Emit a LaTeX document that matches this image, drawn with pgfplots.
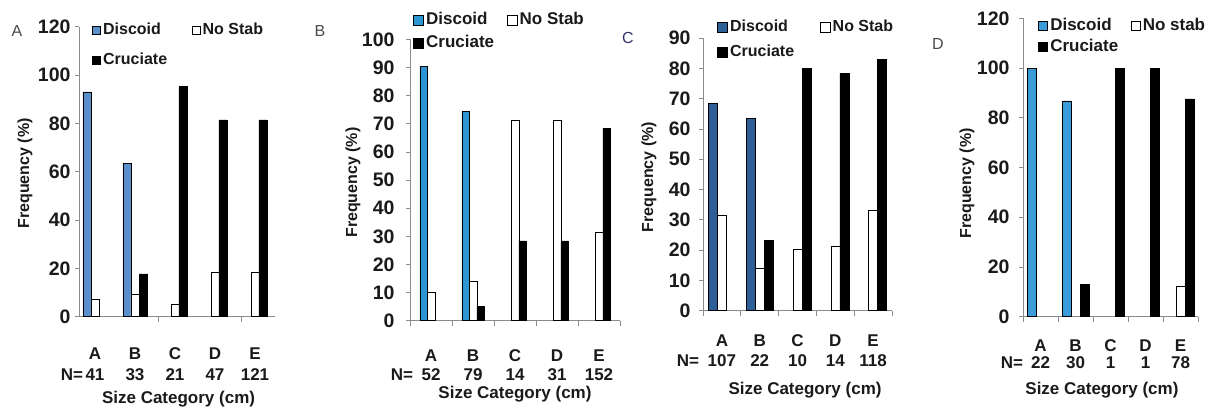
\documentclass[border=0pt]{standalone}
\usepackage{pgfplots}
\pgfplotsset{compat=1.18}
\usepackage{fontspec}
\setmainfont{Liberation Sans}
\definecolor{blueA}{HTML}{5B8FCB}
\definecolor{blueB}{HTML}{2E95D3}
\definecolor{blueC}{HTML}{2E5E96}
\definecolor{blueD}{HTML}{3A9BD8}
\definecolor{axgray}{HTML}{8C8C8C}
\definecolor{txt}{HTML}{1A1A1A}
\definecolor{lettergray}{HTML}{4A4A4A}
\newcommand{\fs}[1]{\fontsize{#1}{#1}\selectfont\bfseries}
\newcommand{\fr}[1]{\fontsize{#1}{#1}\selectfont}
\pgfplotsset{
  panel/.style={
    scale only axis, anchor=south west,
    ybar=0pt, ymin=0, enlarge x limits=false,
    axis x line=bottom, axis y line=left,
    axis line style={-, draw=axgray, line width=0.8pt},
    tick align=outside,
    major tick length=4pt, minor tick length=5pt,
    ytick style={draw=axgray, line width=0.8pt},
    major x tick style={draw=none},
    minor x tick style={draw=axgray, line width=0.8pt},
    xtick={0,1,2,3,4},
    xticklabels={A,B,C,D,E},
    /pgf/number format/assume math mode=true,
    yticklabel style={font=\fs{19.5}, text=txt},
    xticklabel style={font=\fs{17}, text=txt, anchor=base},
    xlabel={Size Category (cm)},
    ylabel={Frequency (\%)},
    xlabel style={font=\fs{17}, text=txt, anchor=base},
    ylabel style={font=\fs{16}, text=txt, anchor=center},
    legend columns=2,
    legend cell align=left,
    legend style={draw=none, fill=none, inner sep=0pt, anchor=north west, font=\fs{16},
      nodes={inner sep=1pt, inner xsep=2.5pt, text height=12pt, text depth=3pt, text=txt}},
    extra x ticks={0,1,2,3,4},
  },
  disc/.style={fill=#1, draw=black, line width=0.5pt},
  nost/.style={fill=white, draw=black, line width=0.5pt},
  cruc/.style={fill=black, draw=black, line width=0.5pt},
}
\begin{document}
\begin{tikzpicture}
\useasboundingbox (0pt,0pt) rectangle (1218pt,-412pt);
% ---------------- Panel A
\begin{axis}[panel, at={(79pt,-316.7pt)}, width=196pt, height=290pt,
  xmin=-0.4, xmax=4.5, ymax=120, ytick={0,20,...,120},
  minor xtick={1.59,3.65}, bar width=8pt,
  yticklabel style={xshift=-1pt},
  xticklabel style={yshift=-38.3pt},
  extra x tick labels={41,33,21,47,121},
  extra x tick style={major tick length=0pt, tick label style={yshift=-25pt}},
  xlabel style={at={(axis description cs:0.508,-0.301)}},
  ylabel style={at={(axis description cs:-0.2755,0.494)}},
  legend style={at={(0.066,1.018)}, row sep=13pt, /tikz/column 2/.style={column sep=22pt}},
  legend image code/.code={\draw[#1, line width=0.5pt] (0pt,-4pt) rectangle (8pt,4pt);},
  ]
\addplot[disc=blueA] coordinates {(0,93) (1,63.5)};
\addplot[nost] coordinates {(0,7.2) (1,9.3) (2,5.1) (3,18.4) (4,18.4)};
\addplot[cruc] coordinates {(1,17.7) (2,95.2) (3,81.4) (4,81.4)};
\legend{Discoid, No Stab, Cruciate}
\end{axis}
% ---------------- Panel B
\begin{axis}[panel, at={(410pt,-320.7pt)}, width=210pt, height=281.3pt,
  xmin=-0.5, xmax=4.5, ymax=100, ytick={0,10,...,100},
  minor xtick={-0.5,0.5,1.5,2.5,3.5,4.5}, bar width=7.5pt,
  yticklabel style={xshift=-8pt},
  xticklabel style={yshift=-36.3pt},
  extra x tick labels={52,79,14,31,152},
  extra x tick style={major tick length=0pt, tick label style={yshift=-23pt}},
  xlabel style={at={(axis description cs:0.5,-0.278)}},
  ylabel style={at={(axis description cs:-0.271,0.491)}},
  legend style={at={(0.014,1.099)}, row sep=6pt, /tikz/column 2/.style={column sep=10pt},
     font=\fs{17}},
  legend image code/.code={\draw[#1, line width=0.5pt] (0pt,-5pt) rectangle (10pt,5pt);},
  ]
\addplot[disc=blueB] coordinates {(0,90.3) (1,74.3)};
\addplot[nost] coordinates {(0,10) (1,14.1) (2,71.4) (3,71.4) (4,31.4)};
\addplot[cruc] coordinates {(1,5.2) (2,28.4) (3,28.4) (4,68.4)};
\legend{Discoid, No Stab, Cruciate}
\end{axis}
% ---------------- Panel C
\begin{axis}[panel, at={(703pt,-310.7pt)}, width=189pt, height=272.6pt,
  xmin=-0.5, xmax=4.5, ymax=90, ytick={0,10,...,90},
  minor xtick={-0.5,0.5,1.5,2.5,3.5,4.5}, bar width=9pt,
  yticklabel style={xshift=-5pt},
  xticklabel style={yshift=-31.8pt},
  extra x tick labels={107,22,10,14,118},
  extra x tick style={major tick length=0pt, tick label style={yshift=-23.5pt}},
  xlabel style={at={(axis description cs:0.54,-0.309)}},
  ylabel style={at={(axis description cs:-0.286,0.49)}},
  legend style={at={(0.074,1.072)}, row sep=8pt, /tikz/column 2/.style={column sep=23pt}},
  legend image code/.code={\draw[#1, line width=0.5pt] (0pt,-5pt) rectangle (10pt,5pt);},
  ]
\addplot[disc=blueC] coordinates {(0,68.5) (1,63.5)};
\addplot[nost] coordinates {(0,31.6) (1,14) (2,20.3) (3,21.4) (4,33.2)};
\addplot[cruc] coordinates {(1,23.1) (2,80) (3,78.4) (4,83)};
\legend{Discoid, No Stab, Cruciate}
\end{axis}
% ---------------- Panel D
\begin{axis}[panel, at={(1023pt,-316.7pt)}, width=175pt, height=298.3pt,
  xmin=-0.5, xmax=4.5, ymax=120, ytick={0,20,...,120},
  minor xtick={-0.5,0.5,1.5,2.5,3.5,4.5}, bar width=9pt,
  yticklabel style={xshift=-6pt},
  xticklabel style={yshift=-30.3pt},
  extra x tick labels={22,30,1,1,78},
  extra x tick style={major tick length=0pt, tick label style={yshift=-21pt}},
  xlabel style={at={(axis description cs:0.451,-0.262)}},
  ylabel style={at={(axis description cs:-0.32,0.447)}},
  legend style={at={(0.086,1.003)}, row sep=4pt, /tikz/column 2/.style={column sep=10pt},
     font=\fs{17}},
  legend image code/.code={\draw[#1, line width=0.5pt] (0pt,-4.5pt) rectangle (9pt,4.5pt);},
  ]
\addplot[disc=blueD] coordinates {(0,100) (1,86.8)};
\addplot[nost] coordinates {(4,12.3)};
\addplot[cruc] coordinates {(1,13) (2,100) (3,100) (4,87.6)};
\legend{Discoid, No stab, Cruciate}
\end{axis}
% ---------------- panel letters and N=
\node[font=\fr{16}, text=lettergray] at (17pt,-31pt) {A};
\node[font=\fr{16}, text=lettergray] at (320pt,-31pt) {B};
\node[font=\fr{16}, text={rgb,255:red,51;green,51;blue,107}] at (628pt,-37.5pt) {C};
\node[font=\fr{16}, text=lettergray] at (938pt,-44pt) {D};
\node[font=\fs{17}, text=txt, anchor=base] at (72pt,-380pt) {N=};
\node[font=\fs{17}, text=txt, anchor=base] at (402pt,-380pt) {N=};
\node[font=\fs{17}, text=txt, anchor=base] at (688pt,-366pt) {N=};
\node[font=\fs{17}, text=txt, anchor=base] at (1012pt,-368pt) {N=};
\end{tikzpicture}
\end{document}
